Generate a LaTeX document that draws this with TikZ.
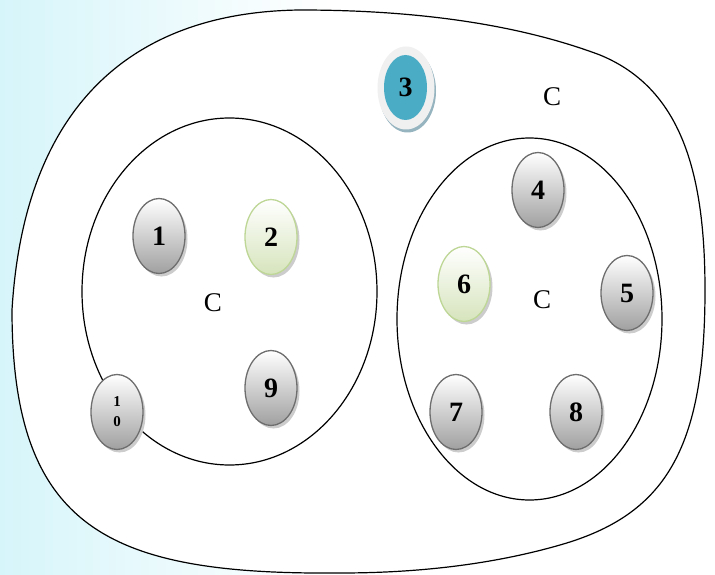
\documentclass[tikz,border=0pt]{standalone}
\usepackage{fontspec}
\setmainfont{Liberation Serif}
\usetikzlibrary{shapes.geometric,shadows}
\definecolor{bgcyan}{RGB}{214,245,250}
\definecolor{nodegray}{RGB}{160,160,160}
\definecolor{bordergray}{RGB}{110,110,110}
\definecolor{greenfill}{RGB}{214,228,188}
\definecolor{greenborder}{RGB}{190,214,150}
\definecolor{teal3}{RGB}{75,172,198}
\definecolor{ring3}{RGB}{240,240,240}
\definecolor{shadow3}{RGB}{150,180,192}
\tikzset{
  oval/.style={ellipse, minimum width=52pt, minimum height=75pt, inner sep=0pt,
    line width=1.3pt, font=\bfseries\fontsize{28}{30}\selectfont,
    general shadow={fill=black!20, shadow xshift=2.5pt, shadow yshift=-3pt}},
  grayoval/.style={oval, draw=bordergray, top color=white, bottom color=nodegray},
  greenoval/.style={oval, draw=greenborder, top color=white, bottom color=greenfill},
  setline/.style={line width=1.2pt, draw=black},
  clabel/.style={font=\fontsize{27}{30}\selectfont, inner sep=0pt}
}
\begin{document}
\begin{tikzpicture}[x=1pt,y=-1pt]
\useasboundingbox (0,0) rectangle (715,575);
% faint background
\shade[left color=bgcyan, right color=white] (0,0) rectangle (330,575);
% outer set
\filldraw[setline, fill=white]
  (12,310) .. controls (24,110) and (128,12) .. (300,10)
  .. controls (420,10) and (520,25) .. (600,55)
  .. controls (680,88) and (705,170) .. (705,290)
  .. controls (705,450) and (665,515) .. (560,545)
  .. controls (480,568) and (400,573) .. (340,573)
  .. controls (110,575) and (12,530) .. cycle;
% inner sets
\draw[setline] (229.5,291.5) ellipse [x radius=147.5pt, y radius=173.5pt];
\draw[setline] (529.5,319) ellipse [x radius=132.5pt, y radius=181pt];
% node 3
\node[ellipse, minimum width=57pt, minimum height=83pt, fill=ring3,
  general shadow={fill=shadow3, shadow xshift=1.5pt, shadow yshift=-3pt}] (n3ring) at (406,88) {};
\node[ellipse, minimum width=43pt, minimum height=65pt, inner sep=0pt, fill=teal3,
  font=\bfseries\fontsize{28}{30}\selectfont] (n3) at (405.5,87.5) {3};
% gray and green nodes
\node[grayoval] (n1) at (159,236) {1};
\node[greenoval] (n2) at (271,237) {2};
\node[grayoval] (n9) at (271,388) {9};
\node[grayoval, align=center, font=\bfseries\fontsize{15}{20}\selectfont] (n10) at (117,412) {1\\0};
\node[grayoval] (n4) at (538,190) {4};
\node[greenoval] (n6) at (464,284) {6};
\node[grayoval] (n5) at (627,293) {5};
\node[grayoval] (n7) at (456,412) {7};
\node[grayoval] (n8) at (576,412) {8};
% labels
\node[clabel] (cout) at (552,97) {C};
\node[clabel] (cleft) at (213,303) {C};
\node[clabel] (cright) at (542,300) {C};
\end{tikzpicture}
\end{document}
